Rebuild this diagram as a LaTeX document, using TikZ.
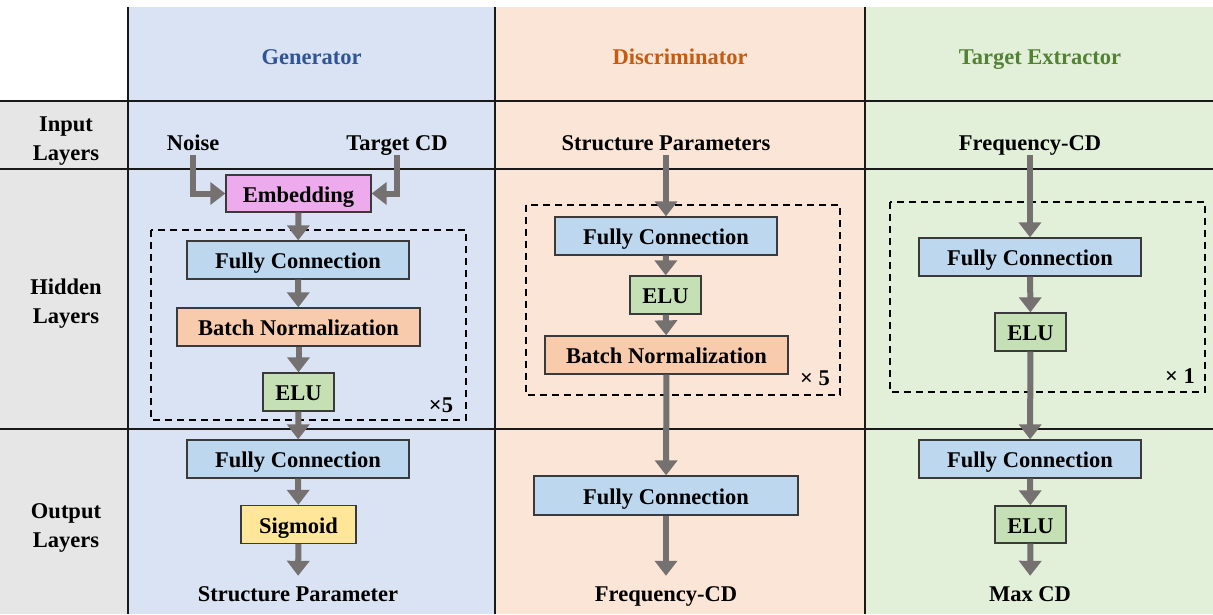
\documentclass[tikz,border=0pt]{standalone}
\usepackage{fontspec}
\setmainfont{Liberation Serif}
\usetikzlibrary{arrows.meta}

% panel and block colours
\definecolor{genbg}{HTML}{DAE3F3}
\definecolor{disbg}{HTML}{FBE5D6}
\definecolor{tarbg}{HTML}{E2F0D9}
\definecolor{rowbg}{HTML}{E7E6E6}
\definecolor{fcfill}{HTML}{BDD7EE}
\definecolor{bnfill}{HTML}{F8CBAD}
\definecolor{elufill}{HTML}{C5E0B4}
\definecolor{sigfill}{HTML}{FFE699}
\definecolor{embfill}{HTML}{EDAAEC}
\definecolor{flowgray}{HTML}{767171}
\definecolor{boxline}{HTML}{3A3A3A}
\definecolor{gentitle}{HTML}{2F5597}
\definecolor{distitle}{HTML}{C55A11}
\definecolor{tartitle}{HTML}{548235}

\newcommand\diagfont{\fontsize{22.5}{29}\selectfont\bfseries}

\tikzset{
  layer/.style={draw=boxline, line width=1.3pt, minimum height=38pt,
    inner sep=0pt, text height=17pt, text depth=0pt, font=\diagfont},
  fcbox/.style={layer, fill=fcfill, minimum width=222pt},
  bnbox/.style={layer, fill=bnfill, minimum width=243pt},
  elubox/.style={layer, fill=elufill, minimum width=71pt},
  sigbox/.style={layer, fill=sigfill, minimum width=115pt},
  embbox/.style={layer, fill=embfill, minimum width=145pt, minimum height=37pt},
  io/.style={font=\diagfont, text height=15pt, text depth=1pt, inner sep=4pt},
  title/.style={font=\diagfont, text height=15pt, text depth=1pt},
  rowlabel/.style={font=\diagfont, align=center},
  times/.style={font=\diagfont, text height=15pt, text depth=1pt},
  flow/.style={draw=flowgray, line width=6pt,
    -{Triangle[length=15pt,width=22pt]}},
  outflow/.style={flow, shorten >=6pt},
  loopbox/.style={draw=black, line width=1.4pt, dash pattern=on 7pt off 5pt},
  gridline/.style={draw=black!90, line width=2pt},
}

\begin{document}
\begin{tikzpicture}[x=1pt,y=-1pt]
\useasboundingbox (0,0) rectangle (1213,614);
\fill[white] (0,0) rectangle (1213,614);

% column and row backgrounds
\fill[rowbg] (0,101) rectangle (128,614);
\fill[genbg] (128,7) rectangle (495,614);
\fill[disbg] (495,7) rectangle (865,614);
\fill[tarbg] (865,7) rectangle (1213,614);

% table rules
\draw[gridline] (0,101) -- (1213,101);
\draw[gridline] (0,169) -- (1213,169);
\draw[gridline] (0,429) -- (1213,429);
\draw[gridline] (128,7) -- (128,614);
\draw[gridline] (495,7) -- (495,614);
\draw[gridline] (865,7) -- (865,614);

% headers
\node[title, text=gentitle] (gtitle) at (311.5,57) {Generator};
\node[title, text=distitle] (dtitle) at (680,57) {Discriminator};
\node[title, text=tartitle] (ttitle) at (1040,57) {Target Extractor};

\node[rowlabel] (rin) at (66,141) {Input\\Layers};
\node[rowlabel] (rhid) at (66,304) {Hidden\\Layers};
\node[rowlabel] (rout) at (66,528) {Output\\Layers};

% repeated blocks
\draw[loopbox] (151,230) rectangle (466,420);
\draw[loopbox] (526,205) rectangle (840,395);
\draw[loopbox] (890,202) rectangle (1205,392);

% ---------- Generator ----------
\node[io] (noise) at (193,143) {Noise};
\node[io] (tcd) at (397,143) {Target CD};
\node[embbox] (emb) at (298.5,193.5) {Embedding};
\node[fcbox] (gfc1) at (298,260) {Fully Connection};
\node[bnbox] (gbn) at (298.5,327) {Batch Normalization};
\node[elubox] (gelu) at (298.5,392) {ELU};
\node[times] (gx) at (441,405) {×5};
\node[fcbox] (gfc2) at (298,459) {Fully Connection};
\node[sigbox] (gsig) at (298.5,524.5) {Sigmoid};
\node[io] (gout) at (298,594) {Structure Parameter};

\draw[flow] (noise.south) |- (emb.west);
\draw[flow] (tcd.south) |- (emb.east);
\draw[flow] (emb) -- (gfc1);
\draw[flow] (gfc1) -- (gbn);
\draw[flow] (gbn) -- (gelu);
\draw[flow] (gelu) -- (gfc2);
\draw[flow] (gfc2) -- (gsig);
\draw[outflow] (gsig) -- (gout);

% ---------- Discriminator ----------
\node[io] (dinp) at (666,143) {Structure Parameters};
\node[fcbox] (dfc1) at (666,236) {Fully Connection};
\node[elubox] (delu) at (665.5,295) {ELU};
\node[bnbox] (dbn) at (666.5,355) {Batch Normalization};
\node[times] (dx) at (815,378) {× 5};
\node[fcbox, minimum width=264pt, minimum height=39pt] (dfc2) at (666,495.5) {Fully Connection};
\node[io] (dout) at (666,594) {Frequency-CD};

\draw[flow] (dinp) -- (dfc1);
\draw[flow] (dfc1) -- (delu);
\draw[flow] (delu) -- (dbn);
\draw[flow] (dbn) -- (dfc2);
\draw[outflow] (dfc2) -- (dout);

% ---------- Target Extractor ----------
\node[io] (tinp) at (1030,143) {Frequency-CD};
\node[fcbox] (tfc1) at (1030,257) {Fully Connection};
\node[elubox] (telu) at (1030.5,332) {ELU};
\node[times] (tx) at (1180,376) {× 1};
\node[fcbox] (tfc2) at (1030,459) {Fully Connection};
\node[elubox, minimum height=37pt] (telu2) at (1030.5,524.5) {ELU};
\node[io] (tout) at (1030,594) {Max CD};

\draw[flow] (tinp) -- (tfc1);
\draw[flow] (tfc1) -- (telu);
\draw[flow] (telu) -- (tfc2);
\draw[flow] (tfc2) -- (telu2);
\draw[outflow] (telu2) -- (tout);
\end{tikzpicture}
\end{document}
